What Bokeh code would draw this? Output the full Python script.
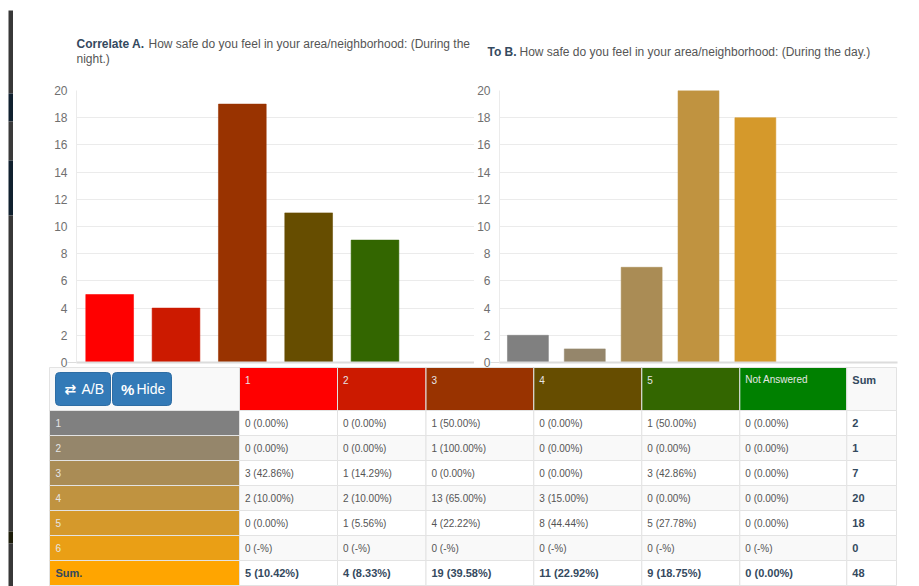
from bokeh.plotting import figure
from bokeh.layouts import row, column
from bokeh.models import Range1d, FactorRange, FixedTicker, ColumnDataSource
from bokeh.embed import file_html
from bokeh.resources import INLINE
from bokeh.core.properties import value

# ---------- data ----------
col_labels = ["1", "2", "3", "4", "5", "Not Answered"]
row_labels = ["1", "2", "3", "4", "5", "6"]
counts_1 = [0, 0, 1, 0, 1, 0]
counts_2 = [0, 0, 1, 0, 0, 0]
counts_3 = [3, 1, 0, 0, 3, 0]
counts_4 = [2, 2, 13, 3, 0, 0]
counts_5 = [0, 1, 4, 8, 5, 0]
counts_6 = [0, 0, 0, 0, 0, 0]
counts = [counts_1, counts_2, counts_3, counts_4, counts_5, counts_6]
col_sums = [5, 4, 19, 11, 9, 0]
row_sums = [2, 1, 7, 20, 18, 0]
grand_total = 48

a_categories = ["1", "2", "3", "4", "5", "Not Answered"]
a_values = [5, 4, 19, 11, 9, 0]
a_colors = ["#FF0000", "#CC1A00", "#993300", "#664D00", "#336600", "#008000"]
b_categories = ["1", "2", "3", "4", "5", "6", "Not Answered"]
b_values = [2, 1, 7, 20, 18, 0, 0]
b_colors = ["#808080", "#95866B", "#AA8C55", "#C09340", "#D5992B", "#EA9F15", "#FFA500"]
y_ticks = [0, 2, 4, 6, 8, 10, 12, 14, 16, 18, 20]

title_a_bold = "Correlate A."
title_a_line1 = "How safe do you feel in your area/neighborhood: (During the"
title_a_line2 = "night.)"
title_b_bold = "To B."
title_b_text = "How safe do you feel in your area/neighborhood: (During the day.)"

FONT = "Liberation Sans"
TITLE_H = 80
CHART_H = 290      # title + chart run 4px into the table figure's transparent top
TABLE_H = 220
BOLD_C = "#34495e"


def bar_chart(cats, vals, colors, width, left, right):
    src = ColumnDataSource(dict(x=cats, top=vals, color=colors))
    p = figure(width=width, height=CHART_H, x_range=FactorRange(factors=cats, factor_padding=0,
               range_padding=0, group_padding=0), y_range=Range1d(0, 20),
               output_backend="svg", toolbar_location=None,
               min_border_left=left, min_border_right=right, min_border_top=10, min_border_bottom=8)
    p.vbar(x="x", top="top", bottom=0, width=0.72, source=src, fill_color="color",
           line_color="color", line_alpha=0.55, line_width=1)
    p.outline_line_color = None
    p.background_fill_color = None
    p.xgrid.visible = False
    p.ygrid.grid_line_color = "#ebebeb"
    p.ygrid.ticker = FixedTicker(ticks=y_ticks)
    ax = p.yaxis[0]
    ax.ticker = FixedTicker(ticks=y_ticks, minor_ticks=[0])
    ax.major_tick_line_color = None
    ax.major_tick_out = 0
    ax.major_tick_in = 0
    ax.minor_tick_out = 9
    ax.minor_tick_in = 0
    ax.minor_tick_line_color = "#dcdcdc"
    ax.axis_line_color = "#ebebeb"
    ax.major_label_standoff = 0
    ax.major_label_text_font = FONT
    ax.major_label_text_font_size = "12px"
    ax.major_label_text_color = "#707070"
    xa = p.xaxis[0]
    xa.major_label_text_color = None
    xa.major_label_text_font_size = "0px"
    xa.major_tick_line_color = None
    xa.minor_tick_line_color = None
    xa.group_text_color = None
    xa.axis_line_color = "#dcdcdc"
    xa.axis_line_width = 2
    return p


p1 = bar_chart(a_categories, a_values, a_colors, 461, 63, 0)
p2 = bar_chart(b_categories, b_values, b_colors, 445, 25, 22)

# ---------- titles ----------
h = figure(width=906, height=TITLE_H, x_range=Range1d(13, 919), y_range=Range1d(TITLE_H, 0),
           output_backend="svg", toolbar_location=None,
           min_border_left=0, min_border_right=0, min_border_top=0, min_border_bottom=0)
h.axis.visible = False
h.grid.visible = False
h.outline_line_color = None
h.background_fill_color = None
h.text(x=[76, 487], y=[43, 51], text=[title_a_bold, title_b_bold], text_color=BOLD_C,
       text_font=value(FONT), text_font_size="12px", text_font_style="bold", text_baseline="middle")
h.text(x=[148, 76, 519], y=[43, 58, 51], text=[title_a_line1, title_a_line2, title_b_text],
       text_color="#555555", text_font=value(FONT), text_font_size="12px", text_baseline="middle")

# ---------- table ----------
col_edges = [49, 239, 337, 425.5, 533.3, 641.3, 739.3, 846.3, 896]
row_edges = [367, 410, 435, 460, 485, 510, 535, 560, 585]

t = figure(width=906, height=TABLE_H, x_range=Range1d(13, 919), y_range=Range1d(586, 366),
           output_backend="svg", toolbar_location=None, margin=(-4, 0, 0, 0),
           min_border_left=0, min_border_right=0, min_border_top=0, min_border_bottom=0)
t.axis.visible = False
t.grid.visible = False
t.outline_line_color = None
t.background_fill_color = None
t.border_fill_color = None

l, r, top, bot, fc = [], [], [], [], []
tx, ty, tt, tc, = [], [], [], []
bx, by, bt, bc = [], [], [], []

n = len(row_labels)
# header row
l.append(col_edges[0]); r.append(col_edges[1]); top.append(row_edges[0]); bot.append(row_edges[1]); fc.append("#f9f9f9")
for j, lab in enumerate(col_labels):
    l.append(col_edges[j + 1]); r.append(col_edges[j + 2]); top.append(row_edges[0]); bot.append(row_edges[1])
    fc.append(a_colors[j])
    tx.append(col_edges[j + 1] + 5.5); ty.append(379); tt.append(lab); tc.append("#e6e6e6")
l.append(col_edges[7]); r.append(col_edges[8]); top.append(row_edges[0]); bot.append(row_edges[1]); fc.append("#f9f9f9")
bx.append(col_edges[7] + 5.5); by.append(379); bt.append("Sum"); bc.append(BOLD_C)

# body rows
for i in range(n):
    y0, y1 = row_edges[i + 1], row_edges[i + 2]
    yc = (y0 + y1) / 2
    l.append(col_edges[0]); r.append(col_edges[1]); top.append(y0); bot.append(y1); fc.append(b_colors[i])
    tx.append(col_edges[0] + 6); ty.append(yc); tt.append(row_labels[i]); tc.append("#e6e6e6")
    stripe = "#f9f9f9" if i % 2 else "#ffffff"
    for j in range(7):
        l.append(col_edges[j + 1]); r.append(col_edges[j + 2]); top.append(y0); bot.append(y1); fc.append(stripe)
    for j in range(6):
        c = counts[i][j]
        s = f"{c} ({c / row_sums[i] * 100:.2f}%)" if row_sums[i] else f"{c} (-%)"
        tx.append(col_edges[j + 1] + 5.5); ty.append(yc); tt.append(s); tc.append("#555555")
    bx.append(col_edges[7] + 5.5); by.append(yc); bt.append(str(row_sums[i])); bc.append(BOLD_C)

# sum row
y0, y1 = row_edges[7], row_edges[8]
yc = (y0 + y1) / 2
l.append(col_edges[0]); r.append(col_edges[1]); top.append(y0); bot.append(y1); fc.append("#FFA500")
bx.append(col_edges[0] + 6); by.append(yc); bt.append("Sum."); bc.append(BOLD_C)
for j in range(7):
    l.append(col_edges[j + 1]); r.append(col_edges[j + 2]); top.append(y0); bot.append(y1); fc.append("#ffffff")
for j in range(6):
    bx.append(col_edges[j + 1] + 5.5); by.append(yc)
    bt.append(f"{col_sums[j]} ({col_sums[j] / grand_total * 100:.2f}%)"); bc.append(BOLD_C)
bx.append(col_edges[7] + 5.5); by.append(yc); bt.append(str(grand_total)); bc.append(BOLD_C)

t.quad(left=l, right=r, top=top, bottom=bot, fill_color=fc, line_color="#e3e3e3", line_width=1)
t.text(x=tx, y=ty, text=tt, text_color=tc, text_font=value(FONT), text_font_size="10px",
       text_baseline="middle", text_align="left")
t.text(x=bx, y=by, text=bt, text_color=bc, text_font=value(FONT), text_font_size="11px",
       text_font_style="bold", text_baseline="middle", text_align="left")

# buttons
t.quad(left=[55, 112], right=[110, 171], top=[372, 372], bottom=[405, 405], fill_color="#337AB7",
       line_color="#2E6DA4", border_radius=4)
t.text(x=[64], y=[388.5], text=["⇄"], text_color="#ffffff", text_font=value("DejaVu Sans"),
       text_font_size="14px", text_font_style="bold", text_baseline="middle")
t.text(x=[81, 136], y=[388.5, 388.5], text=["A/B", "Hide"], text_color="#ffffff", text_font=value(FONT),
       text_font_size="14px", text_baseline="middle")
t.text(x=[120.5], y=[388.5], text=["%"], text_color="#ffffff", text_font=value(FONT),
       text_font_size="15px", text_font_style="bold", text_baseline="middle")

# ---------- dark strip at the left edge ----------
strip_top = [10, 93, 121, 160, 215, 531, 543]
strip_bottom = [93, 121, 160, 215, 531, 543, 586]
strip_colors = ["#383838", "#10202e", "#3a3a3a", "#10202e", "#383838", "#1c1c0a", "#383838"]
s = figure(width=13, height=586, x_range=Range1d(0, 13), y_range=Range1d(586, 0),
           output_backend="svg", toolbar_location=None,
           min_border_left=0, min_border_right=0, min_border_top=0, min_border_bottom=0)
s.axis.visible = False
s.grid.visible = False
s.outline_line_color = None
s.quad(left=8, right=12.5, top=strip_top, bottom=strip_bottom, fill_color=strip_colors, line_color=None)

layout = row(s, column(h, row(p1, p2, spacing=0), t, spacing=0), spacing=0)
open("out.html", "w").write(file_html(layout, INLINE))
